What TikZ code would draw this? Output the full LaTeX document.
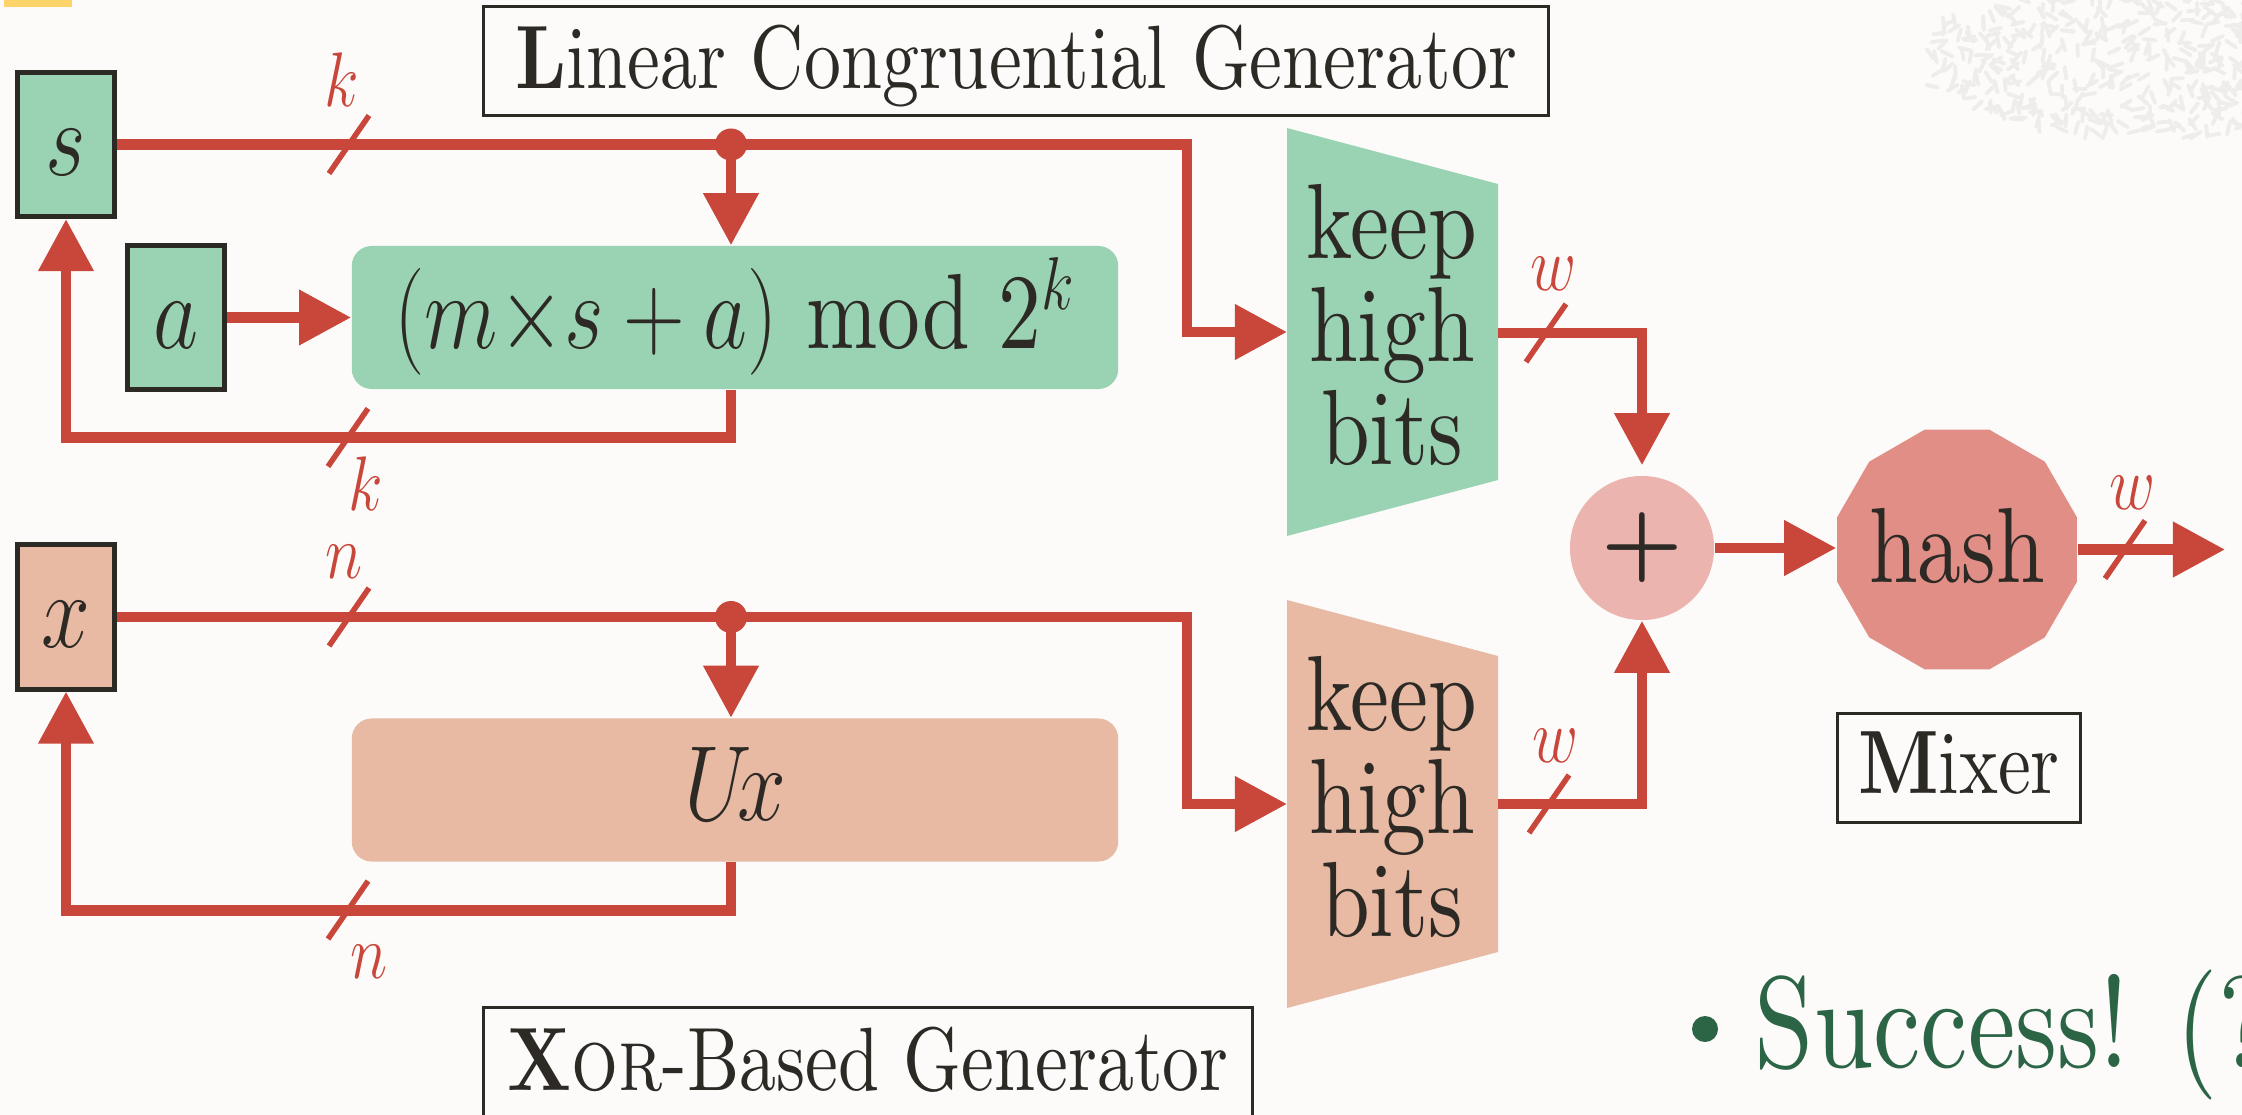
\RequirePackage{fix-cm}
\documentclass[tikz,border=0pt]{standalone}
\usepackage{fontspec}
\setmainfont{lmroman10-regular.otf}[
  BoldFont=lmroman10-bold.otf,
  ItalicFont=lmroman10-italic.otf,
  SmallCapsFont=lmromancaps10-regular.otf]
\usepackage{graphicx}
\usetikzlibrary{arrows.meta}

\definecolor{pagebg}{HTML}{FCFBFA}
\definecolor{wirered}{HTML}{C9463A}
\definecolor{inkdark}{HTML}{2D2A26}
\definecolor{lcggreen}{HTML}{9AD3B4}
\definecolor{xorsalmon}{HTML}{E8B9A3}
\definecolor{pluspink}{HTML}{EBB4AF}
\definecolor{hashred}{HTML}{E08E86}
\definecolor{succgreen}{HTML}{2B6545}
\definecolor{marker}{HTML}{FDD36A}
\definecolor{speckle}{HTML}{EEEDEB}

% narrow setting of the text
\newcommand\nrw[1]{\scalebox{0.82}[1]{#1}}
\newcommand\txtbig{\fontsize{30.4}{36}\selectfont}
\newcommand\txtname{\fontsize{25.6}{30}\selectfont}
\newcommand\txtbus{\fontsize{22}{26}\selectfont}
\newcommand\txtsucc{\fontsize{37}{44}\selectfont}
\newcommand\threelines[3]{\vbox{\baselineskip=29.3pt\lineskiplimit=-20pt\halign{\hfil##\hfil\cr#1\cr#2\cr#3\cr}}}

\begin{document}
\begin{tikzpicture}[x=0.01cm, y=-0.01cm,
  wire/.style={draw=wirered, line width=0.105cm},
  wiretip/.style={-{Triangle[length=0.52cm,width=0.53cm]}},
  busmark/.style={draw=wirered, line width=0.055cm},
  buslbl/.style={text=wirered, font=\txtbus, inner sep=0, anchor=base},
  regbox/.style={draw=inkdark, line width=0.05cm, inner sep=0, minimum width=0.97cm,
    minimum height=1.44cm, text height=0.61cm, text depth=0pt, font=\txtbig, text=inkdark},
  opbox/.style={rounded corners=0.2cm, inner sep=0, minimum width=7.66cm,
    minimum height=1.43cm, text height=0.61cm, text depth=0pt, font=\txtbig, text=inkdark},
  namebox/.style={draw=inkdark, line width=0.035cm, inner sep=0, minimum height=1.085cm,
    text depth=0pt, font=\txtname, text=inkdark},
  junction/.style={circle, fill=wirered, inner sep=0, minimum size=0.32cm},
  speck/.style={draw=speckle, line width=0.038cm, line cap=round},
  bitstext/.style={font=\txtbig, text=inkdark, inner sep=0},
]
\useasboundingbox (0,0) rectangle (2242,1115);
\fill[pagebg] (0,0) rectangle (2242,1115);

% speckled decoration, top right
\begin{scope}
  \clip (0,0) rectangle (2242,1115);
  \pgfmathsetseed{2718}
  \foreach \i in {1,...,520}{
    \pgfmathsetmacro{\spa}{360*rnd}
    \pgfmathsetmacro{\spr}{sqrt(rnd)}
    \pgfmathsetmacro{\spx}{2168+252*\spr*cos(\spa)}
    \pgfmathsetmacro{\spy}{58+80*\spr*sin(\spa)}
    \pgfmathsetmacro{\spd}{360*rnd}
    \draw[speck] (\spx,\spy) +(\spd:6) -- +(\spd+180:6);
  }
\end{scope}
\fill[marker] (4,0) rectangle (72,7);

% ---- linear congruential generator ----
\node[regbox, fill=lcggreen] (sreg) at (66,144.5) {\nrw{$s$}};
\node[regbox, fill=lcggreen] (areg) at (176,317.5) {\nrw{$a$}};
\node[opbox, fill=lcggreen] (lcg) at (735,317.5)
  {\scalebox{0.8}[1]{$(m{\times}s+a)$ mod 2$^{k}$}};
\fill[lcggreen] (1287,128) -- (1498,184) -- (1498,480) -- (1287,536) -- cycle;
\node[bitstext] (kh1) at (1392,325) {\nrw{\threelines{keep}{high}{bits}}};
\coordinate (kh1in) at (1287,332);
\coordinate (kh1out) at (1498,333);
\coordinate (sbend) at (1187,144.5);
\coordinate (sjoin) at (731,144.5);

% ---- xor-based generator ----
\node[regbox, fill=xorsalmon] (xreg) at (66,617) {\nrw{$x$}};
\node[opbox, fill=xorsalmon] (ux) at (735,790) {\nrw{$U\!x$}};
\fill[xorsalmon] (1287,600) -- (1498,656) -- (1498,952) -- (1287,1008) -- cycle;
\node[bitstext] (kh2) at (1392,797) {\nrw{\threelines{keep}{high}{bits}}};
\coordinate (kh2in) at (1287,804);
\coordinate (kh2out) at (1498,804);
\coordinate (xbend) at (1187,617);
\coordinate (xjoin) at (731,617);

% ---- mixer ----
\node[circle, fill=pluspink, minimum size=1.44cm, inner sep=0,
  font=\fontsize{26}{26}\selectfont, text=inkdark] (plus) at (1642,548) {\textbf{+}};
\fill[hashred, shift={(1957,549.5)}] (15:124.2)
  \foreach \k in {1,...,11}{ -- (15+30*\k:124.2) } -- cycle;
\node[circle, inner sep=0, minimum size=2.4cm, text height=0.65cm, text depth=0pt,
  font=\txtbig, text=inkdark] (hash) at (1957,549.5) {\nrw{hash}};
\coordinate (outend) at (2225,549.5);

% ---- connectors ----
\draw[wire,wiretip] (sreg.east) -- (sbend) |- (kh1in);
\draw[wire,wiretip] (sjoin) -- (sjoin |- lcg.north);
\draw[wire,wiretip] (areg.east) -- (areg.east -| lcg.west);
\draw[wire,wiretip] (sjoin |- lcg.south) -- ++(0,48) -| (sreg.south);

\draw[wire,wiretip] (xreg.east) -- (xbend) |- (kh2in);
\draw[wire,wiretip] (xjoin) -- (xjoin |- ux.north);
\draw[wire,wiretip] (xjoin |- ux.south) -- ++(0,48) -| (xreg.south);

\draw[wire,wiretip,shorten >=0.1cm] (kh1out) -| (plus.north);
\draw[wire,wiretip] (kh2out) -| (plus.south);
\draw[wire,wiretip] (plus.east) -- (plus.east -| hash.west);
\draw[wire,wiretip] (hash.east) -- (outend);

\node[junction] (sdot) at (sjoin) {};
\node[junction] (xdot) at (xjoin) {};

% ---- bus widths ----
\draw[busmark] (349,144.5) +(-20,29) -- +(20,-29);
\draw[busmark] (348,437.5) +(-20,29) -- +(20,-29);
\draw[busmark] (349,617) +(-20,29) -- +(20,-29);
\draw[busmark] (348,910) +(-20,29) -- +(20,-29);
\draw[busmark] (1546,333) +(-20,29) -- +(20,-29);
\draw[busmark] (1549,804) +(-20,29) -- +(20,-29);
\draw[busmark] (2125,549.5) +(-20,29) -- +(20,-29);
\node[buslbl] (bk1) at (342,106) {\nrw{$k$}};
\node[buslbl] (bk2) at (366,510) {\nrw{$k$}};
\node[buslbl] (bn1) at (344,578) {\nrw{$n$}};
\node[buslbl] (bn2) at (369,978) {\nrw{$n$}};
\node[buslbl] (bw1) at (1554,290) {\nrw{$w$}};
\node[buslbl] (bw2) at (1556,762) {\nrw{$w$}};
\node[buslbl] (bw3) at (2133,509) {\nrw{$w$}};

% ---- captions ----
\node[namebox, minimum width=10.645cm, text height=0.54cm] (lcgname) at (1016,61)
  {\nrw{\textbf{L}inear Congruential Generator}};
\node[namebox, minimum width=2.425cm, text height=0.50cm] (mixname) at (1959,768)
  {\nrw{\textbf{M}ixer}};
\node[namebox, minimum width=7.685cm, text height=0.56cm] (xorname) at (868,1062)
  {\nrw{\textbf{X}\textsc{or}-Based Generator}};

% ---- bullet line ----
\node[circle, fill=succgreen, inner sep=0, minimum size=0.26cm] (bullet) at (1705,1029) {};
\node[anchor=base west, inner sep=0, text=succgreen, font=\txtsucc] (succ) at (1754,1067)
  {\nrw{Success! (?}};
\end{tikzpicture}
\end{document}
